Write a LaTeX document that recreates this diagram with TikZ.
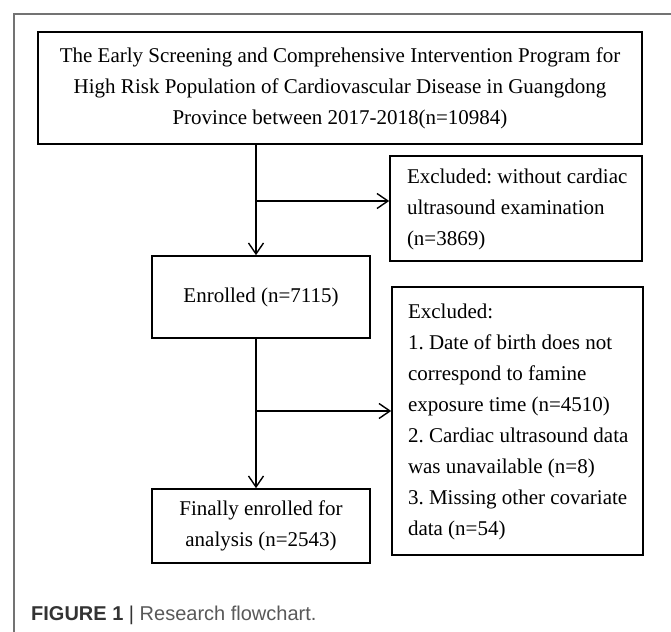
\documentclass[tikz,border=0pt]{standalone}
\usepackage{fontspec}
\setmainfont{Liberation Serif}
\newfontfamily\capfont{Liberation Sans}
\usetikzlibrary{arrows.meta,calc}
\frenchspacing
\newcommand{\leftlines}[3]{\makebox[#1][l]{\hspace*{#2}\begin{tabular}{@{}l@{}}#3\end{tabular}}}
\begin{document}
\begin{tikzpicture}[x=1pt,y=-1pt,
  box/.style={draw=black,line width=1.6pt,inner sep=0pt,font=\fontsize{21}{31}\selectfont},
  arr/.style={line width=1.4pt,-{Straight Barb[length=11pt,width=15pt,line width=1.4pt]}},
  ]
\useasboundingbox (0,0) rectangle (671,631);
\fill[white] (0,0) rectangle (671,631);
\draw[line width=1.5pt,draw=black!55] (14,640) -- (14,14) -- (680,14);
\node[box,minimum width=604pt,minimum height=112pt,align=center] (top) at (340,88)
  {The Early Screening and Comprehensive Intervention Program for\\
   High Risk Population of Cardiovascular Disease in Guangdong\\
   Province between 2017-2018(n=10984)};
\node[box,minimum height=105pt] (ex1) at (516,208.5)
  {\leftlines{252pt}{17pt}{Excluded: without cardiac\\ultrasound examination\\(n=3869)}};
\node[box,minimum width=218pt,minimum height=82pt,align=center] (enr) at (261,297)
  {Enrolled (n=7115)};
\node[box,minimum height=268pt] (ex2) at (517.5,421)
  {\leftlines{251pt}{16pt}{Excluded:\\1. Date of birth does not\\correspond to famine\\exposure time (n=4510)\\2. Cardiac ultrasound data\\was unavailable (n=8)\\3. Missing other covariate\\data (n=54)}};
\node[box,minimum width=218pt,minimum height=74pt,align=center] (fin) at (261,526)
  {Finally enrolled for\\analysis (n=2543)};
\coordinate (t1) at (256,201);
\coordinate (t2) at (256,411);
\draw[arr] (top.south -| t1) -- (enr.north -| t1);
\draw[arr] (t1) -- (t1 -| ex1.west);
\draw[arr] (enr.south -| t2) -- (fin.north -| t2);
\draw[arr] (t2) -- (t2 -| ex2.west);
\node[anchor=base west,inner sep=0pt,font=\capfont\fontsize{20}{24}\selectfont] (cap) at (31,620)
  {\textcolor{black!80}{\textbf{FIGURE 1}} \textcolor{black!80}{|} \textcolor{black!65}{Research flowchart.}};
\end{tikzpicture}
\end{document}
